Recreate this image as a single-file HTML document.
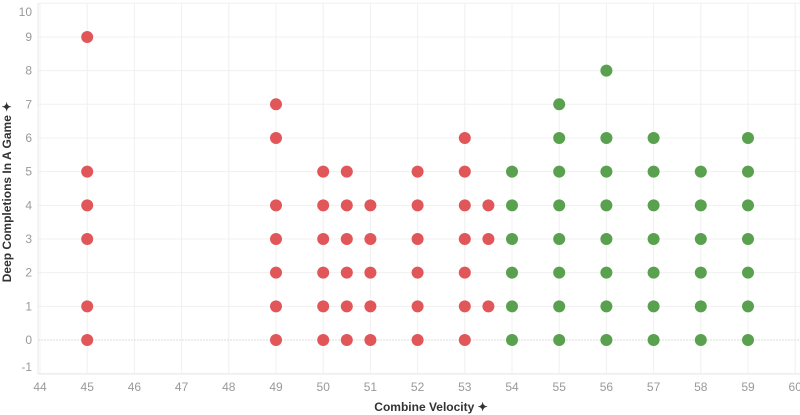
<!DOCTYPE html>
<html><head><style>
html,body{margin:0;padding:0;background:#fff;}
svg{display:block;font-family:"Liberation Sans",sans-serif;}
</style></head><body>
<svg id="s" width="800" height="415" xmlns="http://www.w3.org/2000/svg"></svg>
<script>
const s=document.getElementById('s');
const X=v=>40+(v-44)*47.2, Y=v=>340-v*33.67;
let h='';
for(let v=44;v<=60;v++){h+=`<line x1="${X(v)}" y1="3" x2="${X(v)}" y2="374" stroke="#f0f0f0" stroke-width="1"/>`;
 h+=`<text x="${X(v)}" y="391" font-size="12" fill="#999" text-anchor="middle">${v}</text>`;}
for(let v=-1;v<=10;v++){h+=`<line x1="38" y1="${Y(v)}" x2="800" y2="${Y(v)}" stroke="${v==0?'#ddd':'#f0f0f0'}" stroke-width="1" ${v==0?'stroke-dasharray="2,1"':''}/>`;
 let ly=Y(v)+4; if(v==10) ly=16; if(v==-1) ly=371;
 h+=`<text x="32" y="${ly}" font-size="12" fill="#999" text-anchor="end">${v}</text>`;}
h+=`<line x1="38" y1="3" x2="38" y2="374" stroke="#e8e8e8"/>`;
h+=`<line x1="38" y1="374" x2="800" y2="374" stroke="#e8e8e8"/>`;
const red='#e15759',green='#59a14f';
const d=[[45,[9,5,4,3,1,0]],[49,[7,6,4,3,2,1,0]],[50,[5,4,3,2,1,0]],[50.5,[5,4,3,2,1,0]],[51,[4,3,2,1,0]],[52,[5,4,3,2,1,0]],[53,[6,5,4,3,2,1,0]],[53.5,[4,3,1]],
[54,[5,4,3,2,1,0]],[55,[7,6,5,4,3,2,1,0]],[56,[8,6,5,4,3,2,1,0]],[57,[6,5,4,3,2,1,0]],[58,[5,4,3,2,1,0]],[59,[6,5,4,3,2,1,0]]];
for(const [x,ys] of d) for(const y of ys) h+=`<circle cx="${X(x)}" cy="${Y(y)}" r="6" fill="${x>=54?green:red}"/>`;
h+=`<text x="431" y="411" font-size="12" font-weight="bold" fill="#333" text-anchor="middle">Combine Velocity ✦</text>`;
h+=`<text transform="translate(11,192) rotate(-90)" font-size="12" font-weight="bold" fill="#333" text-anchor="middle">Deep Completions In A Game ✦</text>`;
s.innerHTML=h;
</script>
</body></html>
